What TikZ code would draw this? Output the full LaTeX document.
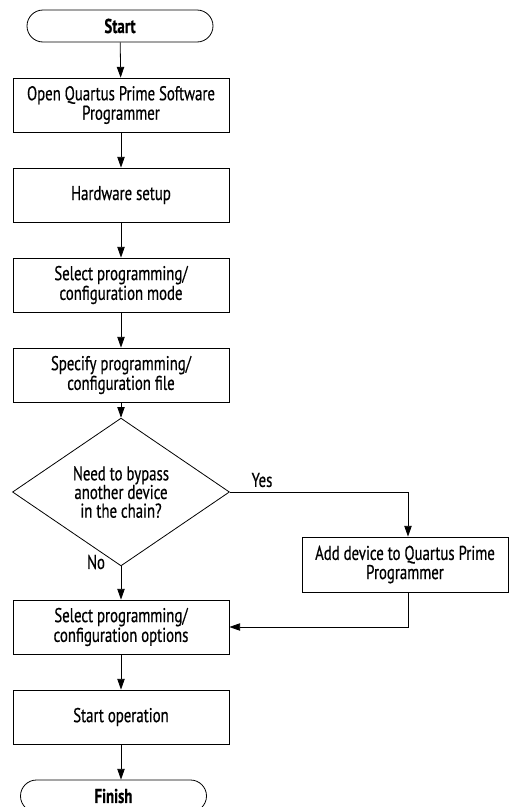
\documentclass[tikz,border=0pt]{standalone}
\usepackage{fontspec}
\setmainfont[FakeStretch=0.74,FakeBold=0.5,BoldFeatures={FakeStretch=0.74}]{PT Sans}
\usetikzlibrary{shapes.geometric,arrows.meta}
\begin{document}
\begin{tikzpicture}[x=0.75pt,y=-0.75pt,
  every node/.style={font=\fontsize{15pt}{13pt}\selectfont},
  box/.style={draw,line width=0.6pt,rectangle,minimum width=162pt,minimum height=40.5pt,align=center,inner sep=0pt},
  term/.style={draw,line width=0.6pt,rectangle,rounded corners=12pt,minimum width=139.5pt,minimum height=24pt,inner sep=0pt,font=\fontsize{15pt}{13pt}\selectfont\bfseries},
  dec/.style={draw,line width=0.6pt,diamond,minimum width=162.75pt,minimum height=81pt,inner sep=0pt,align=center,font=\fontsize{15pt}{14pt}\selectfont},
  arr/.style={line width=0.6pt,-{Triangle[length=8pt,width=5.5pt]}},
  lbl/.style={inner sep=0pt}
]
\useasboundingbox (0,0) rectangle (509,807);
\node[term] (start) at (120,26) {Start};
\node[box] (b1) at (121,105) {Open Quartus Prime Software\\Programmer};
\node[box] (b2) at (121,195) {Hardware setup};
\node[box] (b3) at (121,285) {Select programming/\\configuration mode};
\node[box] (b4) at (121,375) {Specify programming/\\configuration file};
\node[dec] (d) at (121,492) {Need to bypass\\another device\\in the chain?};
\node[box,minimum width=154.5pt,minimum height=41.25pt] (add) at (405,564.5) {Add device to Quartus Prime\\Programmer};
\node[box] (b5) at (121,627) {Select programming/\\configuration options};
\node[box] (b6) at (121,717) {Start operation};
\node[term] (fin) at (113.5,796) {Finish};
\node[lbl] (yes) at (262,480) {Yes};
\node[lbl] (no) at (96,562) {No};
\draw[arr] (start) -- (b1);
\draw[arr] (b1) -- (b2);
\draw[arr] (b2) -- (b3);
\draw[arr] (b3) -- (b4);
\draw[arr] (b4) -- (d);
\draw[arr] (d.east) -| ([xshift=2.25pt]add.north);
\draw[arr] (d.south) -- (b5.north);
\draw[arr] ([xshift=2.25pt]add.south) |- (b5.east);
\draw[arr] (b5) -- (b6);
\draw[arr] (b6.south) -- (b6.south |- fin.north);
\end{tikzpicture}
\end{document}
